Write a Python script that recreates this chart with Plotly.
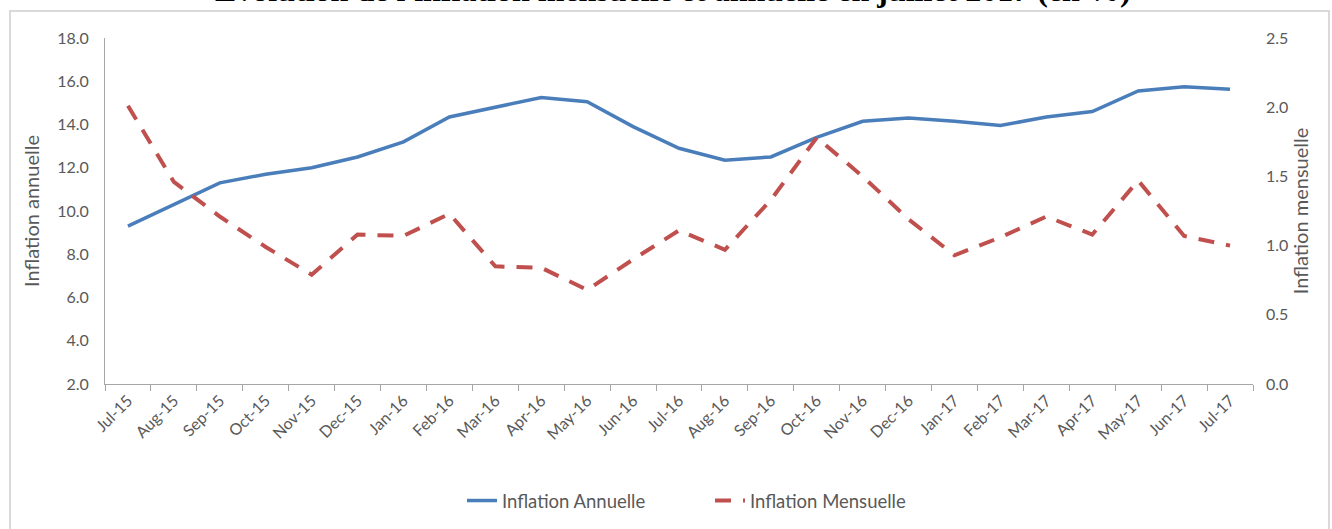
"""Inflation mensuelle et annuelle, juillet 2015 - juillet 2017."""

import plotly.graph_objects as go

BLUE = "#4A7EBB"
RED = "#C0504D"
GREY_TEXT = "#595959"
AXIS_GREY = "#A6A6A6"

months = [
    "Jul-15", "Aug-15", "Sep-15", "Oct-15", "Nov-15", "Dec-15", "Jan-16",
    "Feb-16", "Mar-16", "Apr-16", "May-16", "Jun-16", "Jul-16", "Aug-16",
    "Sep-16", "Oct-16", "Nov-16", "Dec-16", "Jan-17", "Feb-17", "Mar-17",
    "Apr-17", "May-17", "Jun-17", "Jul-17",
]
inflation_annuelle = [
    9.3, 10.3, 11.3, 11.7, 12.0, 12.5, 13.2, 14.35, 14.8, 15.25, 15.05,
    13.9, 12.9, 12.35, 12.5, 13.4, 14.15, 14.3, 14.15, 13.95, 14.35,
    14.6, 15.55, 15.75, 15.63,
]
inflation_mensuelle = [
    2.01, 1.46, 1.21, 0.99, 0.79, 1.08, 1.07, 1.23, 0.85, 0.84, 0.68,
    0.9, 1.11, 0.97, 1.33, 1.78, 1.5, 1.19, 0.93, 1.06, 1.21, 1.08,
    1.47, 1.07, 1.0,
]

W, H = 1332, 529
PLOT_LEFT, PLOT_RIGHT, PLOT_TOP, PLOT_BOTTOM = 105, 1253, 38, 384
MARGIN = {
    "l": PLOT_LEFT,
    "r": W - PLOT_RIGHT,
    "t": PLOT_TOP,
    "b": H - PLOT_BOTTOM,
    "autoexpand": False,
}
plot_w = PLOT_RIGHT - PLOT_LEFT
plot_h = PLOT_BOTTOM - PLOT_TOP


def px_to_paper_x(x):
    return (x - PLOT_LEFT) / plot_w


def px_to_paper_y(y):
    return (PLOT_BOTTOM - y) / plot_h


fig = go.Figure()
fig.add_trace(
    go.Scatter(
        x=months,
        y=inflation_annuelle,
        name="Inflation Annuelle",
        mode="lines",
        line={"color": BLUE, "width": 3.5},
    )
)
fig.add_trace(
    go.Scatter(
        x=months,
        y=inflation_mensuelle,
        name="Inflation Mensuelle",
        mode="lines",
        yaxis="y2",
        line={"color": RED, "width": 4, "dash": "16px,12px"},
    )
)

sans = "Lato, Open Sans, sans-serif"
tick_font = {"family": sans, "size": 16, "color": GREY_TEXT}

fig.update_layout(
    width=W,
    height=H,
    margin=MARGIN,
    paper_bgcolor="white",
    plot_bgcolor="white",
    xaxis={
        "type": "category",
        "range": [-0.5, len(months) - 0.5],
        "showline": True,
        "linecolor": AXIS_GREY,
        "linewidth": 1,
        "ticks": "outside",
        "tickson": "boundaries",
        "ticklen": 6,
        "tickcolor": AXIS_GREY,
        "tickangle": -45,
        "tickfont": tick_font,
        "showgrid": False,
        "zeroline": False,
        "automargin": False,
    },
    yaxis={
        "range": [2, 18],
        "dtick": 2,
        "tickformat": ".1f",
        "showline": True,
        "linecolor": AXIS_GREY,
        "linewidth": 1,
        "ticks": "",
        "ticklabelstandoff": 12,
        "showgrid": False,
        "zeroline": False,
        "automargin": False,
        "tickfont": tick_font,
        "title": {
            "text": "Inflation annuelle",
            "font": {"family": sans, "size": 20, "color": GREY_TEXT},
            "standoff": 12,
        },
    },
    yaxis2={
        "range": [0, 2.5],
        "dtick": 0.5,
        "tickformat": ".1f",
        "overlaying": "y",
        "side": "right",
        "showline": False,
        "ticks": "",
        "ticklabelstandoff": 12,
        "showgrid": False,
        "zeroline": False,
        "automargin": False,
        "tickfont": tick_font,
        "title": {
            "text": "Inflation mensuelle",
            "font": {"family": sans, "size": 20, "color": GREY_TEXT},
            "standoff": 4,
        },
    },
    legend={
        "orientation": "h",
        "x": px_to_paper_x(462),
        "xanchor": "left",
        "y": px_to_paper_y(501),
        "yanchor": "middle",
        "font": {"family": sans, "size": 18.5, "color": GREY_TEXT},
        "entrywidth": 203,
        "tracegroupgap": 0,
    },
    shapes=[
        {
            "type": "rect",
            "xref": "paper",
            "yref": "paper",
            "x0": px_to_paper_x(10),
            "x1": px_to_paper_x(1329),
            "y0": px_to_paper_y(540),
            "y1": px_to_paper_y(11),
            "line": {"color": "#D9D9D9", "width": 2},
            "layer": "below",
        }
    ],
    annotations=[
        {
            "text": "<b>Évolution de l'inflation mensuelle et annuelle en juillet 2017 (en %)</b>",
            "font": {"family": "Liberation Serif, Times New Roman, serif", "size": 32, "color": "black"},
            "xref": "paper",
            "yref": "paper",
            "x": px_to_paper_x(673),
            "xanchor": "center",
            "y": px_to_paper_y(10),
            "yanchor": "bottom",
            "showarrow": False,
        }
    ],
)

# drop the default body margin so the figure fills the window from its corner
fig.write_html(
    "out.html",
    config={"displayModeBar": False},
    post_script="document.body.style.margin = '0';",
)
